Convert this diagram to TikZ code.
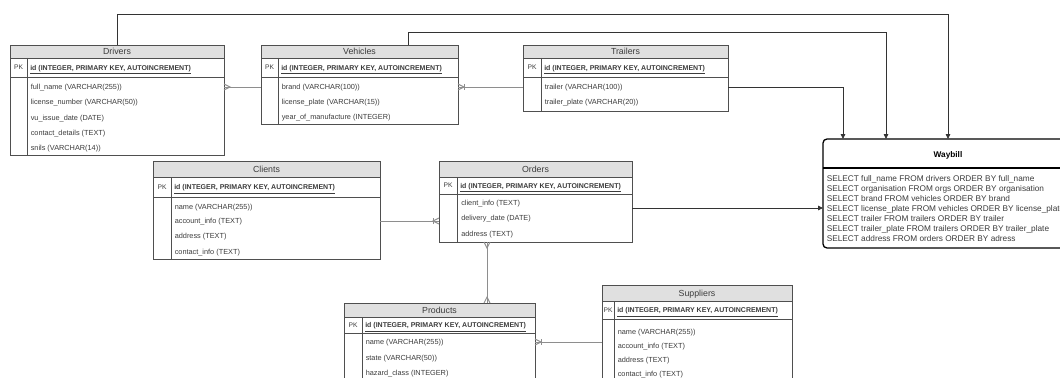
\documentclass[tikz,border=0pt]{standalone}
\usepackage{fontspec}
\setmainfont{Liberation Sans}
\usetikzlibrary{fit,calc,arrows.meta}
\definecolor{frame}{HTML}{4F4F4F}
\definecolor{hdrfill}{HTML}{E0E0E0}
\definecolor{ink}{HTML}{3C3C3C}
\definecolor{erlink}{HTML}{8E8E8E}
\definecolor{flow}{HTML}{333333}

% one entity table: name, left, right, top, header bottom, key-row bottom, bottom, key column, title
\newcommand\ertable[9]{%
  \node[tblframe, fit={(#2,#4) (#3,#7)}] (#1) {};
  \node[tblhead, fit={(#2,#4) (#3,#5)}] (#1h) {};
  \node[headtext] (#1t) at (#1h.center) {#9};
  \node[pkrow, fit={(#2,#5) (#3,#6)}] (#1pk) {};
  \draw[colrule] (#8,#5) -- (#8,#7);
  \node[pktext] (#1pkl) at ($(#2,#5)!0.5!(#8,#6)$) {PK};
  \node[idtext, xshift=2.25pt] (#1id) at ($(#8,#5)!0.5!(#8,#6)$)
    {\underline{id (INTEGER, PRIMARY KEY, AUTOINCREMENT)}};
}

\begin{document}
\begin{tikzpicture}[x=0.75pt, y=-0.75pt,
  tblframe/.style={draw=frame, fill=white, line width=0.68pt, inner sep=0pt, outer sep=0pt},
  tblhead/.style={draw=frame, fill=hdrfill, line width=0.68pt, inner sep=0pt, outer sep=0pt},
  pkrow/.style={draw=frame, line width=0.68pt, inner sep=0pt, outer sep=0pt},
  colrule/.style={draw=frame, line width=0.68pt},
  headtext/.style={inner sep=0pt, text=ink, font=\fontsize{6.6pt}{7.5pt}\selectfont,
    text height=4.7pt, text depth=0pt},
  pktext/.style={inner sep=0pt, text=ink, font=\fontsize{5pt}{6pt}\selectfont,
    text height=3.6pt, text depth=0pt},
  idtext/.style={anchor=west, inner sep=0pt, text=ink, font=\bfseries\fontsize{5.25pt}{6.5pt}\selectfont,
    text height=3.8pt, text depth=0pt},
  field/.style={anchor=west, inner sep=0pt, text=ink, font=\fontsize{5.5pt}{6.5pt}\selectfont,
    text height=3.9pt, text depth=0pt},
  erline/.style={draw=erlink, line width=0.68pt},
  flowline/.style={draw=flow, line width=0.6pt, -{Triangle[length=3.75pt, width=3.4pt]}},
  wbbox/.style={draw=black, line width=0.98pt, rounded corners=3pt, fill=white,
    inner sep=0pt, outer sep=0pt},
  wbtitle/.style={inner sep=0pt, font=\bfseries\fontsize{6.2pt}{7.5pt}\selectfont,
    text height=4.5pt, text depth=0pt},
  wbline/.style={anchor=west, inner sep=0pt, text=ink, font=\fontsize{6.2pt}{7.5pt}\selectfont,
    text height=4.5pt, text depth=0pt},
]
\useasboundingbox (0,0) rectangle (1060,378);
\clip (0,0) rectangle (1060,378);

% entity tables
\ertable{drv}{10}{224}{45}{58}{77}{155}{27}{Drivers}
\ertable{veh}{261}{458}{45}{58}{77}{124}{278}{Vehicles}
\ertable{trl}{523}{728}{45}{58}{77}{111}{541}{Trailers}
\ertable{cli}{153}{380}{161}{177}{197}{259}{171}{Clients}
\ertable{ord}{439}{632}{161}{177}{194}{242}{457}{Orders}
\ertable{prd}{344}{535}{303}{317}{333}{395}{362}{Products}
\ertable{sup}{602}{792}{285}{301}{319}{395}{614}{Suppliers}

% table columns
\node[field] (drvf1) at (30.5,87)  {full\_name (VARCHAR(255))};
\node[field] (drvf2) at (30.5,102) {license\_number (VARCHAR(50))};
\node[field] (drvf3) at (30.5,117.5) {vu\_issue\_date (DATE)};
\node[field] (drvf4) at (30.5,133) {contact\_details (TEXT)};
\node[field] (drvf5) at (30.5,148) {snils (VARCHAR(14))};

\node[field] (vehf1) at (281.5,87)  {brand (VARCHAR(100))};
\node[field] (vehf2) at (281.5,102) {license\_plate (VARCHAR(15))};
\node[field] (vehf3) at (281.5,117) {year\_of\_manufacture (INTEGER)};

\node[field] (trlf1) at (544.5,87)  {trailer (VARCHAR(100))};
\node[field] (trlf2) at (544.5,102) {trailer\_plate (VARCHAR(20))};

\node[field] (clif1) at (174.5,207) {name (VARCHAR(255))};
\node[field] (clif2) at (174.5,221) {account\_info (TEXT)};
\node[field] (clif3) at (174.5,236) {address (TEXT)};
\node[field] (clif4) at (174.5,252) {contact\_info (TEXT)};

\node[field] (ordf1) at (461,203) {client\_info (TEXT)};
\node[field] (ordf2) at (461,218) {delivery\_date (DATE)};
\node[field] (ordf3) at (461,234) {address (TEXT)};

\node[field] (prdf1) at (365.5,342) {name (VARCHAR(255))};
\node[field] (prdf2) at (365.5,358) {state (VARCHAR(50))};
\node[field] (prdf3) at (365.5,373) {hazard\_class (INTEGER)};

\node[field] (supf1) at (617.5,332) {name (VARCHAR(255))};
\node[field] (supf2) at (617.5,346) {account\_info (TEXT)};
\node[field] (supf3) at (617.5,360) {address (TEXT)};
\node[field] (supf4) at (617.5,374) {contact\_info (TEXT)};

% waybill card
\node[wbbox, fit={(823,139) (1073,248)}] (wb) {};
\draw[line width=0.98pt] (wb.west |- 0,168) -- (wb.east |- 0,168);
\node[wbtitle] (wbt) at (948,154) {Waybill};
\node[wbline] (wb1) at (826.5,178.3) {SELECT full\_name FROM drivers ORDER BY full\_name};
\node[wbline] (wb2) at (826.5,188.3) {SELECT organisation FROM orgs ORDER BY organisation};
\node[wbline] (wb3) at (826.5,198.3) {SELECT brand FROM vehicles ORDER BY brand};
\node[wbline] (wb4) at (826.5,208.3) {SELECT license\_plate FROM vehicles ORDER BY license\_plate};
\node[wbline] (wb5) at (826.5,218.3) {SELECT trailer FROM trailers ORDER BY trailer};
\node[wbline] (wb6) at (826.5,228.3) {SELECT trailer\_plate FROM trailers ORDER BY trailer\_plate};
\node[wbline] (wb7) at (826.5,238.3) {SELECT address FROM orders ORDER BY adress};

% entry points on the waybill card
\coordinate (wbinC) at (843,139);
\coordinate (wbinB) at (886,139);
\coordinate (wbinA) at (948,139);
\coordinate (wbinL) at (823,208);
\coordinate (vehtop) at (408,45);
\coordinate (opx) at (487,270);

% data flow into the waybill
\draw[flowline] (drv.north) -- ++(0,-31) -| (wbinA);
\draw[flowline] (vehtop) -- ++(0,-13) -| (wbinB);
\draw[flowline] (trl.east |- trlf1) -| (wbinC);
\draw[flowline] (ord.east |- wbinL) -- (wbinL);

% relations between tables
\draw[erline] (drv.east |- drvf1) -- (veh.west |- drvf1);
\draw[erline] (drv.east |- drvf1) ++(0,-3) -- ++(6,3) -- ++(-6,3);

\draw[erline] (veh.east |- vehf1) -- (trl.west |- vehf1);
\draw[erline] (veh.east |- vehf1) ++(0,-3) -- ++(6,3) -- ++(-6,3);
\draw[erline] (veh.east |- vehf1) ++(6,-3) -- ++(0,6);

\draw[erline] (cli.east |- clif2) -- (ord.west |- clif2);
\draw[erline] (ord.west |- clif2) ++(0,-3) -- ++(-6,3) -- ++(6,3);
\draw[erline] (ord.west |- clif2) ++(-6,-3) -- ++(0,6);

\draw[erline] (ord.south -| opx) -- (prd.north -| opx);
\draw[erline] (ord.south -| opx) ++(-3,0) -- ++(3,6) -- ++(3,-6);
\draw[erline] (prd.north -| opx) ++(-3,0) -- ++(3,-6) -- ++(3,6);

\draw[erline] (prd.east |- prdf1) -- (sup.west |- prdf1);
\draw[erline] (prd.east |- prdf1) ++(0,-3) -- ++(6,3) -- ++(-6,3);
\draw[erline] (prd.east |- prdf1) ++(6,-3) -- ++(0,6);
\end{tikzpicture}
\end{document}
